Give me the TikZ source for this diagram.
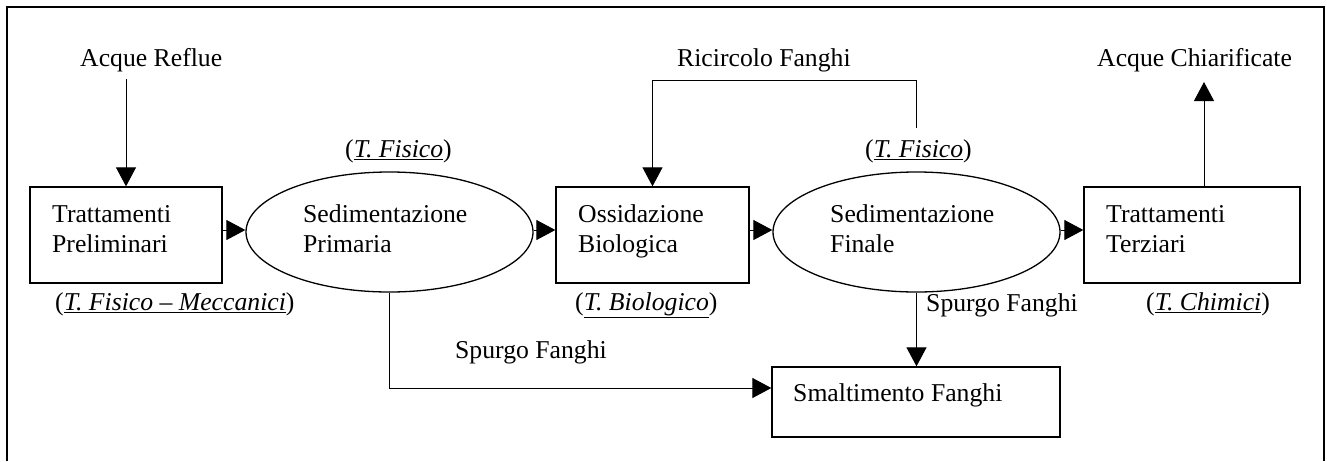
\documentclass[tikz,border=0pt]{standalone}
\usepackage{fontspec}
\setmainfont{Liberation Serif}
\usetikzlibrary{arrows.meta,shapes.geometric}
\begin{document}
\begin{tikzpicture}[x=1pt,y=-1pt,
  every node/.style={font=\fontsize{25.7}{30}\selectfont},
  box/.style={draw,line width=1.3pt,rectangle,inner sep=0pt},
  oval/.style={draw,line width=1.3pt,ellipse,inner sep=0pt,minimum width=287pt,minimum height=120pt},
  txt/.style={anchor=base west,inner sep=0pt},
  arr/.style={line width=1pt,-{Triangle[length=19pt,width=20pt]}},
  ln/.style={line width=1pt}]
\useasboundingbox (0,0) rectangle (1327,461);
% frame
\draw[line width=1.2pt] (7,461) -- (7,7) -- (1324,7) -- (1324,461);

% main nodes
\node[box,minimum width=192pt,minimum height=96pt] (tp) at (126,235) {};
\node[oval] (s1) at (389.5,232) {};
\node[box,minimum width=193pt,minimum height=96pt] (ox) at (652.5,235) {};
\node[oval] (s2) at (916.5,232) {};
\node[box,minimum width=216pt,minimum height=96pt] (tt) at (1192,235) {};
\node[box,minimum width=288pt,minimum height=70pt] (sm) at (916,402) {};

% texts in nodes
\node[txt] (tp1) at (52,222) {Trattamenti};
\node[txt] (tp2) at (52,252) {Preliminari};
\node[txt] (s11) at (303,222) {Sedimentazione};
\node[txt] (s12) at (303,252) {Primaria};
\node[txt] (ox1) at (578,222) {Ossidazione};
\node[txt] (ox2) at (578,252) {Biologica};
\node[txt] (s21) at (830,222) {Sedimentazione};
\node[txt] (s22) at (830,252) {Finale};
\node[txt] (tt1) at (1106,222) {Trattamenti};
\node[txt] (tt2) at (1106,252) {Terziari};
\node[txt] (smt) at (793,401) {Smaltimento Fanghi};

% labels
\node[txt] (ar) at (80,66) {Acque Reflue};
\node[txt] (rf) at (677,66) {Ricircolo Fanghi};
\node[txt] (ach) at (1097,66) {Acque Chiarificate};
\node[txt] (lf1) at (345,157) {(\underline{\textit{T. Fisico}})};
\node[txt] (lf2) at (865,157) {(\underline{\textit{T. Fisico}})};
\node[txt] (lfm) at (55,310) {(\underline{\textit{T. Fisico -- Meccanici}})};
\node[txt] (lb) at (575,310) {(\underline{\textit{T. Biologico}})};
\node[txt] (lc) at (1146,310) {(\underline{\textit{T. Chimici}})};
\node[txt] (sp1) at (455,358) {Spurgo Fanghi};
\node[txt] (sp2) at (926,311) {Spurgo Fanghi};

% helper coordinates
\coordinate (arstart) at (126,79);
\coordinate (rcstart) at (916,128);
\coordinate (acend) at (1204,82);
\coordinate (acstart) at (1204,187);

% connectors
\draw[arr] (arstart) -- (tp.north);
\draw[arr] (tp.east |- 0,230) -- (s1.west |- 0,230);
\draw[arr] (s1.east |- 0,230) -- (ox.west |- 0,230);
\draw[arr] (ox.east |- 0,230) -- (s2.west |- 0,230);
\draw[arr] (s2.east |- 0,230) -- (tt.west |- 0,230);
\draw[arr] (acstart) -- (acend);
\draw[arr] (rcstart) -- ++(0,-48) -| (ox.north);
\draw[arr] (s2.south) -- (sm.north -| s2.south);
\draw[arr] (s1.south) |- ([yshift=14pt]sm.west);
\end{tikzpicture}
\end{document}
